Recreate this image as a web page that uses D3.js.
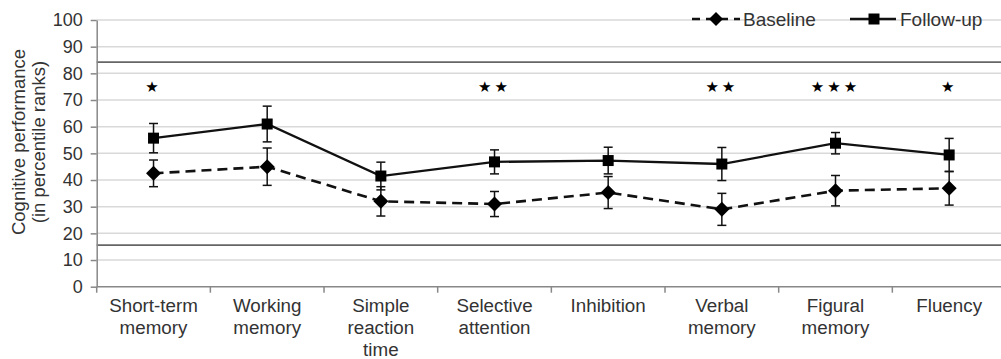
<!DOCTYPE html>
<html>
<head>
<meta charset="utf-8">
<script src="https://cdn.jsdelivr.net/npm/d3@7"></script>
<style>
  html, body { margin: 0; padding: 0; background: #fff; }
  svg { display: block; font-family: "Liberation Sans", Arial, sans-serif; }
</style>
</head>
<body>
<svg id="chart" width="1001" height="359"></svg>
<script>
const categories = [
  ["Short-term", "memory"],
  ["Working", "memory"],
  ["Simple", "reaction", "time"],
  ["Selective", "attention"],
  ["Inhibition"],
  ["Verbal", "memory"],
  ["Figural", "memory"],
  ["Fluency"]
];
const baseline      = [42.5, 45.0, 32.0, 31.0, 35.3, 29.0, 36.0, 36.9];
const baselineErr   = [5.0, 7.0, 5.5, 4.7, 6.0, 6.0, 5.7, 6.3];
const followUp      = [55.7, 61.0, 41.5, 46.8, 47.3, 46.0, 53.8, 49.4];
const followUpErr   = [5.5, 6.7, 5.2, 4.5, 5.0, 6.2, 4.0, 6.2];
const stars         = [1, 0, 0, 2, 0, 2, 3, 1];
const yTicks        = [0, 10, 20, 30, 40, 50, 60, 70, 80, 90, 100];
const normLines     = [84.2, 15.6];
const seriesNames   = ["Baseline", "Follow-up"];
const yTitle        = ["Cognitive performance", "(in percentile ranks)"];

(function () {
const svg = d3.select("#chart");
const mLeft = 96.7, mRight = 1006, mTop = 20, mBottom = 286.7;

const x = d3.scaleBand().domain(d3.range(categories.length)).range([mLeft, mRight]);
const y = d3.scaleLinear().domain([0, 100]).range([mBottom, mTop]);
const cx = i => x(i) + x.bandwidth() / 2;

// gridlines
svg.append("g").selectAll("line").data(yTicks.filter(d => d > 0)).join("line")
  .attr("x1", mLeft).attr("x2", 1001)
  .attr("y1", d => y(d)).attr("y2", d => y(d))
  .attr("stroke", "#d9d9d9").attr("stroke-width", 1.5);

// norm lines
svg.append("g").selectAll("line").data(normLines).join("line")
  .attr("x1", mLeft).attr("x2", 1001)
  .attr("y1", d => y(d)).attr("y2", d => y(d))
  .attr("stroke", "#666").attr("stroke-width", 1.8);

// y axis
const yAxis = svg.append("g").attr("transform", `translate(${mLeft},0)`)
  .call(d3.axisLeft(y).tickValues(yTicks).tickSize(6).tickSizeOuter(0).tickPadding(8));
yAxis.select(".domain").attr("stroke", "#888").attr("stroke-width", 1.5);
yAxis.selectAll(".tick line").attr("stroke", "#888").attr("stroke-width", 1.5);
yAxis.selectAll(".tick text").attr("font-size", 18).attr("fill", "#333")
  .attr("font-family", "Liberation Sans, Arial, sans-serif");

// x axis
const xAxisG = svg.append("g");
xAxisG.append("line").attr("x1", mLeft).attr("x2", 1001).attr("y1", mBottom).attr("y2", mBottom)
  .attr("stroke", "#888").attr("stroke-width", 1.5);
xAxisG.selectAll("line.tk").data(d3.range(categories.length + 1)).join("line")
  .attr("class", "tk")
  .attr("x1", i => mLeft + i * x.step()).attr("x2", i => mLeft + i * x.step())
  .attr("y1", mBottom).attr("y2", mBottom + 6)
  .attr("stroke", "#888").attr("stroke-width", 1.5);
const xl = xAxisG.selectAll("text").data(categories).join("text")
  .attr("x", (d, i) => cx(i)).attr("y", 312)
  .attr("text-anchor", "middle").attr("font-size", 18.8).attr("fill", "#333");
xl.selectAll("tspan").data(d => d).join("tspan")
  .attr("x", function() { return d3.select(this.parentNode).attr("x"); })
  .attr("dy", (d, j) => j === 0 ? 0 : 22)
  .text(d => d);

// y title
svg.append("text")
  .attr("transform", `translate(25,142) rotate(-90)`)
  .attr("text-anchor", "middle").attr("font-size", 18.5).attr("fill", "#333")
  .selectAll("tspan").data(yTitle).join("tspan")
  .attr("x", 0).attr("dy", (d, j) => j === 0 ? 0 : 20).text(d => d);

// series
const series = [
  { vals: baseline, err: baselineErr, dash: "10,6", shape: "diamond" },
  { vals: followUp, err: followUpErr, dash: null, shape: "square" }
];
const diamondPath = s => `M0,${-s}L${s},0L0,${s}L${-s},0Z`;

series.forEach(s => {
  const g = svg.append("g");
  s.vals.forEach((v, i) => {
    const e = s.err[i];
    g.append("line").attr("x1", cx(i)).attr("x2", cx(i)).attr("y1", y(v + e)).attr("y2", y(v - e))
      .attr("stroke", "#111").attr("stroke-width", 1.5);
    [v + e, v - e].forEach(t => g.append("line")
      .attr("x1", cx(i) - 4.5).attr("x2", cx(i) + 4.5).attr("y1", y(t)).attr("y2", y(t))
      .attr("stroke", "#111").attr("stroke-width", 1.5));
  });
  g.append("path").datum(s.vals)
    .attr("d", d3.line().x((d, i) => cx(i)).y(d => y(d)))
    .attr("fill", "none").attr("stroke", "#111").attr("stroke-width", s.dash ? 2.6 : 2.3)
    .attr("stroke-dasharray", s.dash);
  g.selectAll(".m").data(s.vals).join("path").attr("class", "m")
    .attr("transform", (d, i) => `translate(${cx(i)},${y(d)})`)
    .attr("d", s.shape === "diamond" ? diamondPath(7.5) : "M-5.5,-5.5H5.5V5.5H-5.5Z")
    .attr("fill", "#000");
});

// stars
svg.append("g").selectAll("text").data(stars).join("text")
  .attr("x", (d, i) => cx(i)).attr("y", 92)
  .attr("text-anchor", "middle").attr("font-size", 15).attr("fill", "#000")
  .attr("font-family", "DejaVu Sans, sans-serif")
  .attr("letter-spacing", 3)
  .text(d => "★".repeat(d));

// legend
const lg = svg.append("g");
const ly = 19;
lg.append("line").attr("x1", 692).attr("x2", 740).attr("y1", ly).attr("y2", ly)
  .attr("stroke", "#111").attr("stroke-width", 2.6).attr("stroke-dasharray", "8,6");
lg.append("path").attr("transform", `translate(716,${ly})`).attr("d", diamondPath(7)).attr("fill", "#000");
lg.append("text").attr("x", 743).attr("y", ly + 6.5).attr("font-size", 19).attr("fill", "#333").text(seriesNames[0]);
lg.append("line").attr("x1", 850).attr("x2", 896).attr("y1", ly).attr("y2", ly)
  .attr("stroke", "#111").attr("stroke-width", 2.3);
lg.append("path").attr("transform", `translate(874,${ly})`).attr("d", "M-5.5,-5.5H5.5V5.5H-5.5Z").attr("fill", "#000");
lg.append("text").attr("x", 900).attr("y", ly + 6.5).attr("font-size", 19).attr("fill", "#333").text(seriesNames[1]);
})();
</script>
</body>
</html>
